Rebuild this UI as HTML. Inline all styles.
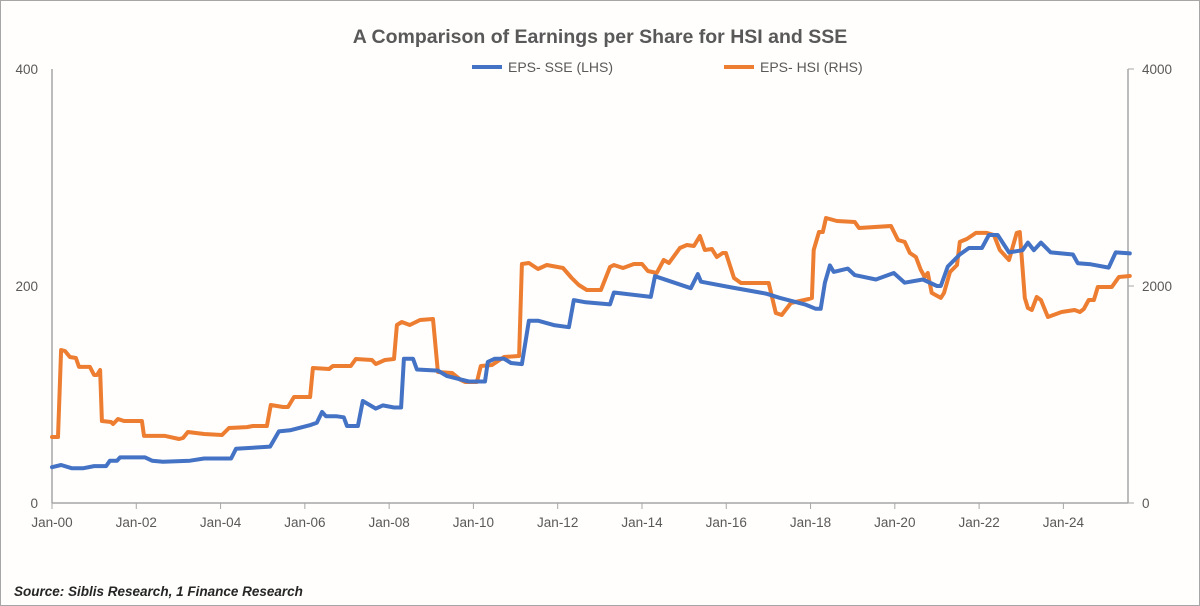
<!DOCTYPE html>
<html><head><meta charset="utf-8"><style>
body{margin:0;background:#fff;}
svg{display:block;font-family:"Liberation Sans",sans-serif;}
</style></head><body>
<svg id="chart" width="1200" height="606" viewBox="0 0 1200 606">
<rect x="0.5" y="0.5" width="1199" height="605" fill="#fffefc" stroke="#a6a6a6"/>
<text x="600" y="43" text-anchor="middle" font-size="19.5" font-weight="bold" fill="#595959">A Comparison of Earnings per Share for HSI and SSE</text>
<g>
<g><line x1="472" y1="67" x2="502" y2="67" stroke="#4472C4" stroke-width="4"/><text x="508" y="72" font-size="14" fill="#595959">EPS- SSE (LHS)</text></g>
<g><line x1="724" y1="67" x2="754" y2="67" stroke="#ED7D31" stroke-width="4"/><text x="760" y="72" font-size="14" fill="#595959">EPS- HSI (RHS)</text></g>
</g>
<g id="axes"></g>
<g id="series"></g>
<text x="14" y="596" font-size="13.5" font-style="italic" font-weight="bold" fill="#262626">Source: Siblis Research, 1 Finance Research</text>
</svg>
<script>
// months since Jan-2000
const sseMonths=[0,2.6,5.7,8.8,12,15.4,16.5,18.5,19.4,26.5,28.5,31.6,39.3,43.3,51,52.4,62.1,64.6,67.8,73.7,75.4,76.9,78,80.9,83.1,84,87.1,88.5,92.2,94.2,97.4,99.4,100.2,102.8,103.9,109.9,112.5,118.7,123.3,124.1,126.1,128.7,130.7,133.8,135.8,138.4,142.9,147.2,148.6,152,158.9,160,170.5,171.7,181.9,183.9,184.8,193,203.3,207.3,214.4,217.5,218.9,220.1,221.5,222.6,226.6,228.6,234.6,239.7,242.8,248,252,253.1,255.1,258.5,261.1,264.8,266.8,269.3,272.5,276.4,277.9,279.6,281.6,284.4,290.7,292.1,295.8,300.9,302.9,306.9];
const sseValues=[33,35,32,32,34,34,39,39,42,42,39,38,39,41,41,50,52,66,67,72,74,84,80,80,79,71,71,94,87,90,88,88,133,133,123,122,117,112,112,130,133,133,129,128,168,168,164,162,187,185,183,194,190,209,198,211,204,199,193,189,183,179,179,203,219,213,216,210,206,212,203,206,200,200,218,229,235,235,247,247,231,233,240,233,240,231,229,221,220,217,231,230];
const hsiMonths=[0,1.7,2.6,3.7,5.1,6.8,7.7,10.8,12,12.8,13.7,14.2,16.8,17.4,18.8,20.5,25.6,26.2,32.2,36.2,37.3,38.7,43.3,48.4,50.4,55.5,57.2,61.2,62.3,65.8,67.2,68.9,73.5,74.3,78.9,80,85.1,86.5,91.1,92.2,94.8,97.4,98.2,99.6,101.9,104.8,108.5,109.9,113.9,116.4,117.6,121,122.1,125.3,128.7,133,133.8,135.8,138.4,140.9,145.5,148,150,152.3,156.3,158.9,160,162.6,165.7,168,169.7,172.2,174.2,175.7,178.8,180.8,182.8,184.5,185.9,187.9,189.3,191,191.9,194.2,196.2,203.3,204.1,206.1,207.8,210.4,215.5,216.4,216.9,218.4,219.5,220.4,223.5,228.6,229.8,238.9,240.9,242.8,244.3,246,247.4,248.5,249.4,250.5,253.1,254,255.7,257.7,258.5,260.5,263.1,266.2,268.2,269.9,270.7,272.5,274.7,275.6,277,277.9,279,280.4,281.6,283.6,287.5,291.2,292.7,293.8,295.2,296.7,297.8,301.8,303.8,306.9];
const hsiValues=[608,608,1410,1401,1346,1336,1254,1254,1180,1180,1226,756,747,728,774,756,756,618,618,590,599,654,636,627,691,700,710,710,903,885,885,977,977,1244,1235,1263,1263,1327,1318,1281,1318,1327,1641,1668,1641,1687,1696,1207,1198,1134,1115,1115,1263,1272,1346,1355,2203,2212,2157,2194,2166,2074,2009,1963,1963,2175,2194,2166,2203,2203,2138,2120,2240,2212,2350,2378,2369,2461,2332,2341,2267,2304,2304,2074,2028,2028,2028,1751,1733,1843,1880,1889,2332,2498,2498,2627,2599,2590,2535,2553,2424,2406,2304,2267,2148,2083,2120,1936,1890,1936,2129,2194,2406,2433,2489,2489,2470,2332,2304,2240,2489,2498,1890,1797,1779,1899,1871,1714,1760,1779,1760,1788,1871,1871,1991,1991,2083,2092];
const xLabels=["Jan-00","Jan-02","Jan-04","Jan-06","Jan-08","Jan-10","Jan-12","Jan-14","Jan-16","Jan-18","Jan-20","Jan-22","Jan-24"];
const leftTicks=[0,200,400];
const rightTicks=[0,2000,4000];

const X0=52,X1=1128,Y0=503,Y1=69,MMAX=306.4;
const xs=m=>X0+(X1-X0)*m/MMAX;
const yl=v=>Y0-(Y0-Y1)*v/400;
const yr=v=>Y0-(Y0-Y1)*v/4000;
const NS="http://www.w3.org/2000/svg";
function mk(tag,attrs,parent){const e=document.createElementNS(NS,tag);for(const k in attrs)e.setAttribute(k,attrs[k]);parent.appendChild(e);return e;}
const axes=document.getElementById('axes'),series=document.getElementById('series');
let e;
e=mk('line',{x1:X0,y1:Y1,x2:X0,y2:Y0,stroke:'#a6a6a6','stroke-width':1.5},axes);


e=mk('line',{x1:X1,y1:Y1,x2:X1,y2:Y0,stroke:'#a6a6a6','stroke-width':1.5},axes);


e=mk('line',{x1:X0,y1:Y0,x2:X1,y2:Y0,stroke:'#a6a6a6','stroke-width':1.5},axes);


leftTicks.forEach(v=>{
  const t=mk('text',{x:38,y:yl(v)+5,'text-anchor':'end','font-size':13.5,fill:'#595959'},axes);
  t.textContent=v;
  
  
});
rightTicks.forEach(v=>{
  mk('line',{x1:X1,y1:yr(v),x2:X1+6,y2:yr(v),stroke:'#a6a6a6'},axes);
  const t=mk('text',{x:1142,y:yr(v)+5,'font-size':13.5,fill:'#595959'},axes);
  t.textContent=v;
  
  
});
xLabels.forEach((l,i)=>{
  const x=xs(i*24);
  mk('line',{x1:x,y1:Y0,x2:x,y2:Y0+6,stroke:'#a6a6a6'},axes);
  const t=mk('text',{x:x,y:527,'text-anchor':'middle','font-size':13.5,fill:'#595959'},axes);
  t.textContent=l;
  
  
});
function path(ms,vs,yf,color,name){
  const d=ms.map((m,i)=>(i?'L':'M')+xs(m).toFixed(1)+','+yf(vs[i]).toFixed(1)).join('');
  const p=mk('path',{d:d,fill:'none',stroke:color,'stroke-width':4,'stroke-linejoin':'round','stroke-linecap':'round'},series);
  
  
}
path(hsiMonths,hsiValues,yr,'#ED7D31','hsi-eps-line');
path(sseMonths,sseValues,yl,'#4472C4','sse-eps-line');
</script>
</body></html>
